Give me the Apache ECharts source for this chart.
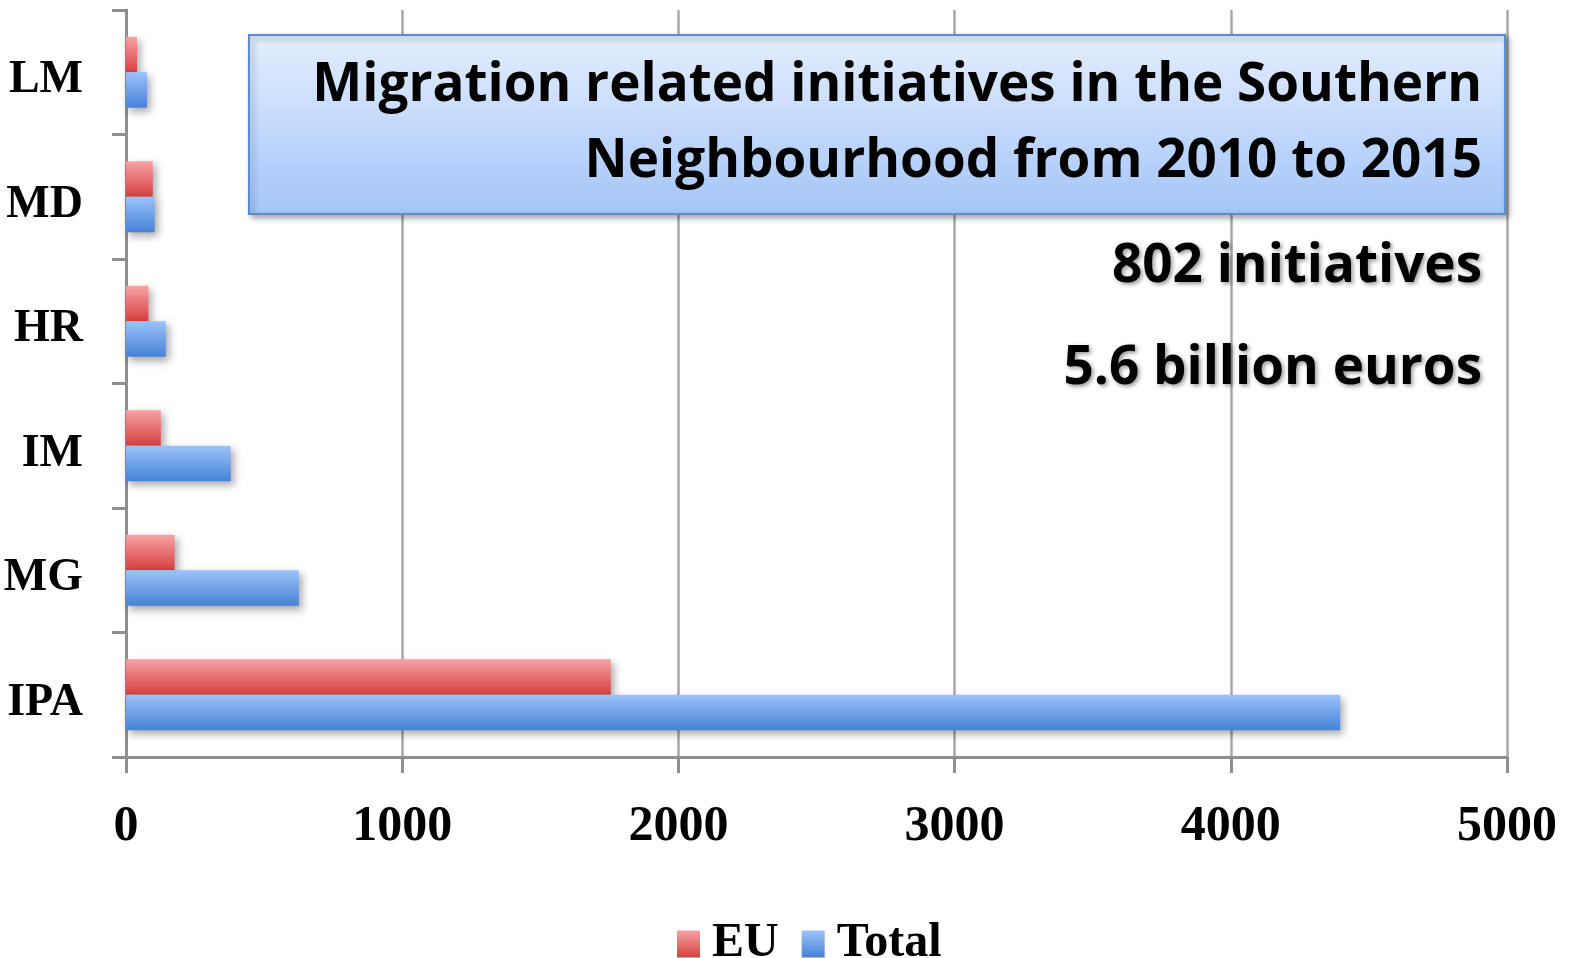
<!DOCTYPE html>
<html>
<head>
<meta charset="utf-8">
<script src="https://cdn.jsdelivr.net/npm/echarts@6/dist/echarts.min.js"></script>
<style>html,body{margin:0;padding:0;background:#fff;overflow:hidden;width:100%;height:100%}#c{width:100vw;height:100vh}</style>
</head>
<body>
<div id="c"></div>
<script>
const categories = ['IPA', 'MG', 'IM', 'HR', 'MD', 'LM'];
const euValues = [1755, 176, 126, 81, 97, 40];
const totalValues = [4396, 626, 379, 144, 104, 76];
const xTicks = [0, 1000, 2000, 3000, 4000, 5000];
const titleLines = ['Migration related initiatives in the Southern', 'Neighbourhood from 2010 to 2015'];
const infoLines = ['802 initiatives', '5.6 billion euros'];

const serif = '"Liberation Serif", "DejaVu Serif", serif';
const sans = '"Open Sans", Lato, sans-serif';
const axisGray = '#8f8f8f';
const barShadow = { shadowColor: 'rgba(0,0,0,0.35)', shadowBlur: 8, shadowOffsetX: 3, shadowOffsetY: 4 };

const chart = echarts.init(document.getElementById('c'));
chart.setOption({
  animation: false,
  grid: { left: 126, right: 70, top: 10, bottom: 201 },
  legend: {
    data: ['EU', 'Total'],
    left: 672, top: 915,
    icon: 'rect', itemWidth: 23, itemHeight: 27, itemGap: 23,
    textStyle: { fontFamily: serif, fontWeight: 'bold', fontSize: 48, color: '#000', padding: [0, 0, 0, 7] }
  },
  xAxis: {
    type: 'value', min: xTicks[0], max: xTicks[xTicks.length - 1], interval: 1000,
    axisLine: { show: true, lineStyle: { color: axisGray, width: 3 } },
    axisTick: { show: true, length: 16, lineStyle: { color: axisGray, width: 3 } },
    splitLine: { show: true, lineStyle: { color: '#a8a8a8', width: 2.5 } },
    axisLabel: { margin: 45, fontFamily: serif, fontWeight: 'bold', fontSize: 50, color: '#000',
      formatter: v => String(v) }
  },
  yAxis: {
    type: 'category', data: categories,
    axisLine: { show: true, lineStyle: { color: axisGray, width: 3 } },
    axisTick: { show: true, length: 14, lineStyle: { color: axisGray, width: 3 } },
    axisLabel: { margin: 43, fontFamily: serif, fontWeight: 'bold', fontSize: 46, color: '#000',
      verticalAlign: 'top', lineHeight: 16 }
  },
  series: [
    {
      name: 'EU', type: 'bar', data: euValues,
      barGap: '0%', barCategoryGap: '43%',
      itemStyle: Object.assign({
        color: new echarts.graphic.LinearGradient(0, 0, 0, 1, [
          { offset: 0, color: '#f7a3a3' }, { offset: 1, color: '#d63f3f' }
        ])
      }, barShadow)
    },
    {
      name: 'Total', type: 'bar', data: totalValues,
      barGap: '0%', barCategoryGap: '43%',
      itemStyle: Object.assign({
        color: new echarts.graphic.LinearGradient(0, 0, 0, 1, [
          { offset: 0, color: '#9cc3fa' }, { offset: 1, color: '#4682d6' }
        ])
      }, barShadow)
    }
  ],
  graphic: [
    {
      type: 'rect', left: 248, top: 34, z: 100,
      shape: { width: 1256, height: 179 },
      style: {
        fill: new echarts.graphic.LinearGradient(0, 0, 0, 1, [
          { offset: 0, color: '#e4eefd' }, { offset: 1, color: '#a4c5f8' }
        ]),
        stroke: '#5b8bd2', lineWidth: 2,
        shadowColor: 'rgba(0,0,0,0.35)', shadowBlur: 6, shadowOffsetX: 3, shadowOffsetY: 3
      }
    },
    {
      type: 'text', z: 101,
      style: { x: 1482, y: 86, text: titleLines[0], textAlign: 'right', textVerticalAlign: 'middle',
        font: 'bold 53px ' + sans, fill: '#000' }
    },
    {
      type: 'text', z: 101,
      style: { x: 1482, y: 162, text: titleLines[1], textAlign: 'right', textVerticalAlign: 'middle',
        font: 'bold 53px ' + sans, fill: '#000' }
    },
    {
      type: 'text', z: 101,
      style: { x: 1482, y: 267, text: infoLines[0], textAlign: 'right', textVerticalAlign: 'middle',
        font: 'bold 53px ' + sans, fill: '#000',
        textShadowColor: 'rgba(0,0,0,0.4)', textShadowBlur: 4, textShadowOffsetX: 2, textShadowOffsetY: 2 }
    },
    {
      type: 'text', z: 101,
      style: { x: 1482, y: 369, text: infoLines[1], textAlign: 'right', textVerticalAlign: 'middle',
        font: 'bold 53px ' + sans, fill: '#000',
        textShadowColor: 'rgba(0,0,0,0.4)', textShadowBlur: 4, textShadowOffsetX: 2, textShadowOffsetY: 2 }
    }
  ]
});
</script>
</body>
</html>
